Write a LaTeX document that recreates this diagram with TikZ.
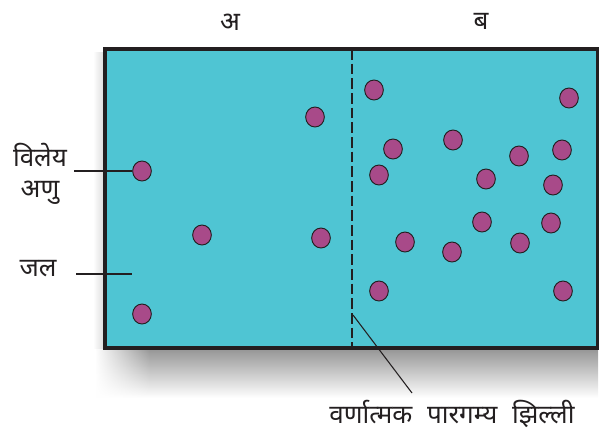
\documentclass[tikz,border=0pt]{standalone}
\usepackage{fontspec}
\newfontfamily\deva[Script=Devanagari]{Noto Sans}
\usetikzlibrary{shapes.geometric,fadings}
\definecolor{water}{HTML}{4FC5D3}
\definecolor{mol}{HTML}{A84A89}
\definecolor{ink}{HTML}{231F20}
\tikzset{
  molecule/.style={ellipse, draw=ink, line width=0.7pt, fill=mol, inner sep=0pt,
    minimum width=14pt, minimum height=15pt},
  lbl/.style={font=\deva\fontsize{19.5}{23}\selectfont, text=ink, inner sep=0pt},
  pointer/.style={draw=ink, line width=0.8pt},
}
\begin{document}
\begin{tikzpicture}[x=0.75pt, y=-0.75pt]
\useasboundingbox (0,0) rectangle (599,439);
% shadows
\shade[top color=black!42, bottom color=white] (96,348) rectangle (598,398);
\fill[white, path fading=east] (95,348) rectangle (150,399);
\shade[left color=white, right color=black!15] (93,52) rectangle (105,348);
% container
\fill[water] (105,49) rectangle (598,348);
\draw[ink, line width=1.6pt, dash pattern=on 8 off 3] (352,49) -- (352,348);
\draw[ink, line width=2.3pt] (105,49) rectangle (598,348);
% molecules, side A
\node[molecule] (a1) at (315,117) {};
\node[molecule] (a2) at (142,171) {};
\node[molecule] (a3) at (202,235) {};
\node[molecule] (a4) at (321,238) {};
\node[molecule] (a5) at (142,314) {};
% molecules, side B
\node[molecule] (b1) at (374,90) {};
\node[molecule] (b2) at (569,98) {};
\node[molecule] (b3) at (393,149) {};
\node[molecule] (b4) at (453,140) {};
\node[molecule] (b5) at (519,156) {};
\node[molecule] (b6) at (562,150) {};
\node[molecule] (b7) at (379,175) {};
\node[molecule] (b8) at (486,179) {};
\node[molecule] (b9) at (553,185) {};
\node[molecule] (b10) at (482,222) {};
\node[molecule] (b11) at (551,223) {};
\node[molecule] (b12) at (405,242) {};
\node[molecule] (b13) at (452,252) {};
\node[molecule] (b14) at (520,243) {};
\node[molecule] (b15) at (379,291) {};
\node[molecule] (b16) at (563,291) {};
% labels
\node[lbl] (lA) at (230,22) {अ};
\node[lbl] (lB) at (481,21) {ब};
\node[lbl, align=center] (lsol) at (40,174) {विलेय\\अणु};
\node[lbl] (lwat) at (38,269) {जल};
\node[lbl] (lmem) at (452,414) {वर्णात्मक\hspace{6pt} पारगम्य\hspace{6pt} झिल्ली};
% pointers
\coordinate (s1) at (74,171);
\draw[pointer] (s1) -- (a2.west);
\coordinate (w1) at (76,274);
\coordinate (w2) at (132,274);
\draw[pointer] (w1) -- (w2);
\coordinate (p1) at (353,315);
\coordinate (p2) at (412,393);
\draw[pointer] (p1) -- (p2);
\end{tikzpicture}
\end{document}
